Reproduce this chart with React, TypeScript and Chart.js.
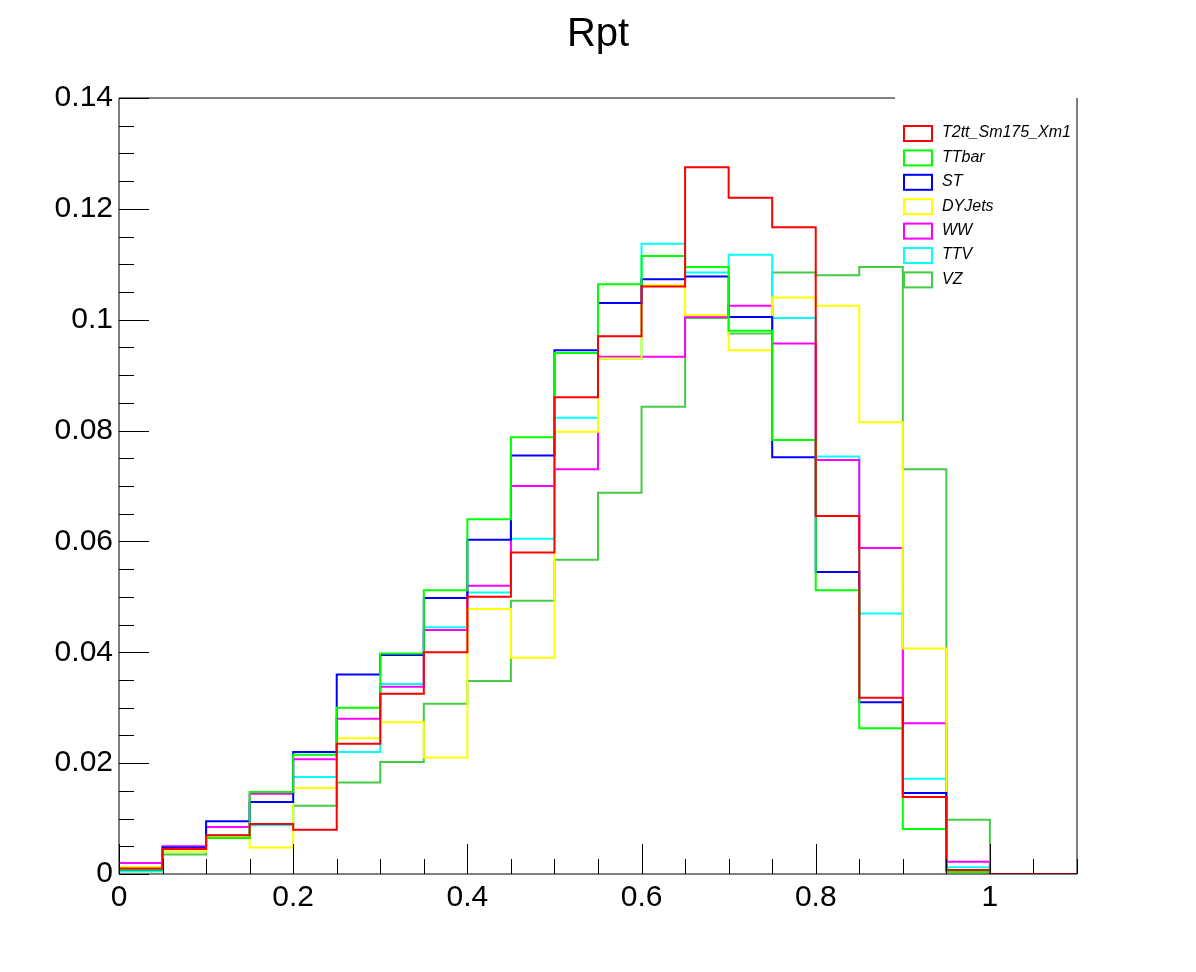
import React, { useEffect, useRef } from "react";
import { Chart, registerables } from "chart.js";
Chart.register(...registerables);

const binEdges = [0,0.05,0.1,0.15,0.2,0.25,0.3,0.35,0.4,0.45,0.5,0.55,0.6,0.65,0.7,0.75,0.8,0.85,0.9,0.95,1.0,1.05,1.1];
const seriesNames = ["T2tt_Sm175_Xm1","TTbar","ST","DYJets","WW","TTV","VZ"];
const seriesColors = ["#ff0000","#00ff00","#0000ff","#ffff00","#ff00ff","#00ffff","#44cc44"];
const t2tt = [0.001,0.0045,0.007,0.009,0.008,0.0235,0.0325,0.040,0.050,0.058,0.086,0.097,0.106,0.1275,0.122,0.1167,0.0646,0.0318,0.0139,0.0007,0,0];
const ttbar = [0.0008,0.0045,0.0065,0.0148,0.0215,0.030,0.0398,0.0512,0.064,0.0788,0.094,0.1064,0.1115,0.1095,0.098,0.0783,0.0512,0.0263,0.0081,0.0004,0,0];
const st = [0.0008,0.0048,0.0095,0.013,0.022,0.036,0.0395,0.0498,0.0603,0.0755,0.0945,0.103,0.1073,0.1078,0.1005,0.0752,0.0545,0.031,0.0146,0.0005,0,0];
const dyjets = [0.0012,0.004,0.0068,0.0048,0.0155,0.0245,0.0274,0.021,0.0478,0.039,0.0798,0.093,0.1062,0.1008,0.0945,0.104,0.1025,0.0815,0.0407,0.0003,0,0];
const ww = [0.002,0.005,0.0085,0.0145,0.0207,0.028,0.0338,0.044,0.052,0.070,0.073,0.0933,0.0933,0.1005,0.1025,0.0957,0.0747,0.0588,0.0272,0.0022,0,0];
const ttv = [0.0005,0.004,0.007,0.0088,0.0175,0.022,0.0343,0.0445,0.0508,0.0605,0.0823,0.093,0.1137,0.1085,0.1117,0.1003,0.0753,0.047,0.0172,0.0012,0,0];
const vz = [0.0005,0.0035,0.0065,0.009,0.0123,0.0165,0.0202,0.0307,0.0348,0.0493,0.0567,0.0688,0.0843,0.1003,0.0975,0.1085,0.108,0.1095,0.073,0.0098,0,0];
const allSeries = [t2tt, ttbar, st, dyjets, ww, ttv, vz];
const xTickValues = [0,0.2,0.4,0.6,0.8,1.0];
const yTickValues = [0,0.02,0.04,0.06,0.08,0.1,0.12,0.14];

const FONT = "'Liberation Sans', Arial, sans-serif";

export default function App() {
  const ref = useRef<HTMLCanvasElement>(null);
  useEffect(() => {
    document.body.style.margin = "0";
    const datasets = allSeries.map((vals, i) => {
      const pts: { x: number; y: number }[] = [{ x: 0, y: 0 }];
      vals.forEach((v, j) => pts.push({ x: binEdges[j], y: v }));
      pts.push({ x: binEdges[binEdges.length - 1], y: vals[vals.length - 1] });
      return {
        label: seriesNames[i], data: pts, borderColor: seriesColors[i], borderWidth: 2,
        stepped: "before" as const, pointRadius: 0, fill: false,
      };
    });
    const framePlugin = {
      id: "frame",
      afterDraw(chart: any) {
        const { ctx, chartArea: a, scales } = chart;
        const xs = scales.x, ys = scales.y;
        ctx.save();
        ctx.strokeStyle = "#000"; ctx.lineWidth = 1;
        ctx.beginPath();
        ctx.moveTo(a.left, a.top); ctx.lineTo(a.left, a.bottom); ctx.lineTo(a.right, a.bottom);
        ctx.moveTo(a.right, a.bottom); ctx.lineTo(a.right, a.top);
        ctx.moveTo(a.left, a.top); ctx.lineTo(895, a.top);
        for (let k = 0; k <= 28; k++) {
          const v = k * 0.005; const y = Math.round(ys.getPixelForValue(v)) + 0.5;
          const len = k % 4 === 0 ? 30 : 15;
          ctx.moveTo(a.left, y); ctx.lineTo(a.left + len, y);
        }
        for (let k = 0; k <= 22; k++) {
          const v = k * 0.05; const x = Math.round(xs.getPixelForValue(v)) + 0.5;
          const len = k % 4 === 0 ? 30 : 15;
          ctx.moveTo(x, a.bottom); ctx.lineTo(x, a.bottom - len);
        }
        ctx.stroke();
        ctx.font = `italic 16px ${FONT}`;
        ctx.textBaseline = "middle";
        seriesNames.forEach((n, i) => {
          const y = 133 + i * 24.4;
          ctx.strokeStyle = seriesColors[i]; ctx.lineWidth = 2;
          ctx.strokeRect(904, y - 7, 28, 15);
          ctx.fillStyle = "#000";
          ctx.fillText(n, 942, y);
        });
        ctx.font = `40px ${FONT}`;
        ctx.textAlign = "center"; ctx.textBaseline = "alphabetic";
        ctx.fillText("Rpt", 598, 46);
        ctx.restore();
      },
    };
    const chart = new Chart(ref.current!, {
      type: "line",
      data: { datasets },
      options: {
        animation: false, responsive: false, devicePixelRatio: 1,
        layout: { padding: { left: 0, right: 1196 - 1077, top: 98, bottom: 0 } },
        plugins: { legend: { display: false }, tooltip: { enabled: false } },
        scales: {
          x: {
            type: "linear", min: 0, max: 1.1,
            grid: { display: false, drawTicks: false }, border: { display: false },
            afterBuildTicks: (s: any) => { s.ticks = xTickValues.map((v) => ({ value: v })); },
            afterFit: (s: any) => { s.height = 972 - 874; },
            ticks: { font: { family: FONT, size: 30 }, color: "#000", padding: 6, maxRotation: 0,
              callback: (v: any) => String(Math.round(Number(v) * 10) / 10) },
          },
          y: {
            min: 0, max: 0.14,
            grid: { display: false, drawTicks: false }, border: { display: false },
            afterBuildTicks: (s: any) => { s.ticks = yTickValues.map((v) => ({ value: v })); },
            afterFit: (s: any) => { s.width = 119; },
            ticks: { font: { family: FONT, size: 30 }, color: "#000", padding: 6,
              callback: (v: any) => String(Math.round(Number(v) * 100) / 100) },
          },
        },
      },
      plugins: [framePlugin],
    });
    return () => chart.destroy();
  }, []);
  return <canvas ref={ref} width={1196} height={972} style={{ display: "block" }} />;
}
